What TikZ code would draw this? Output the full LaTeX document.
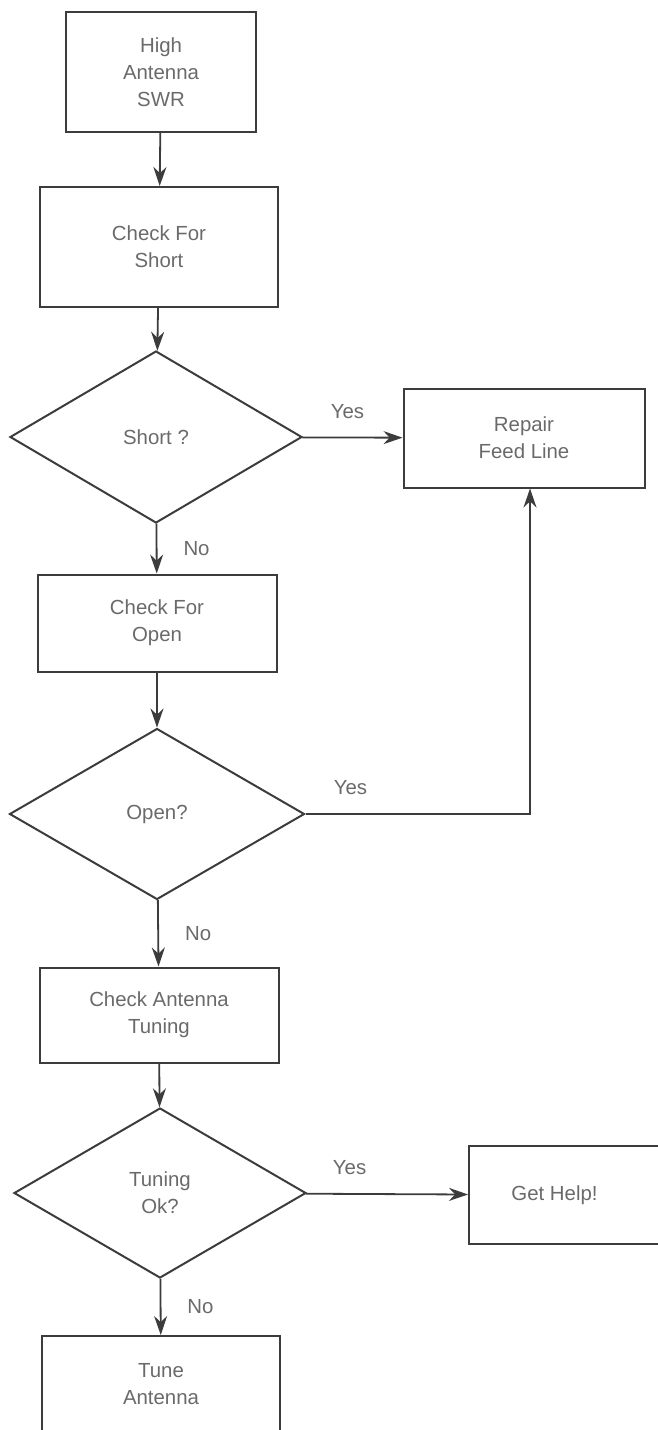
\documentclass[tikz,border=0pt]{standalone}
\usepackage{fontspec}
\setmainfont{Liberation Sans}
\usepackage{tikz}
\usetikzlibrary{arrows.meta,shapes.geometric}
\definecolor{lineGray}{HTML}{3C3C3C}
\definecolor{textGray}{HTML}{6A6A6A}

\begin{document}
\begin{tikzpicture}[x=0.5pt,y=-0.5pt,
  every node/.style={font=\fontsize{10.2}{13.5}\selectfont,text=textGray},
  procbox/.style={draw=lineGray,line width=1pt,rectangle,align=center,inner sep=0pt},
  decision/.style={draw=lineGray,line width=1pt,diamond,align=center,inner sep=0pt},
  flow/.style={draw=lineGray,line width=0.9pt,-{Stealth[length=9.5pt,width=6.5pt]}},
  lbl/.style={inner sep=1pt}]
\clip (0,0) rectangle (658,1430);
% main column
\node[procbox,minimum width=95pt,minimum height=60pt] (swr) at (161,72) {High\\Antenna\\SWR};
\node[procbox,minimum width=119pt,minimum height=60pt] (chkshort) at (159,247) {Check For\\Short};
\node[decision,minimum width=146pt,minimum height=86pt] (short) at (156,437) {Short ?};
\node[procbox,minimum width=119.5pt,minimum height=48.5pt] (chkopen) at (157,623) {Check For\\Open};
\node[decision,minimum width=147.5pt,minimum height=85.5pt] (open) at (157,814) {Open?};
\node[procbox,minimum width=119.5pt,minimum height=47.5pt] (chktune) at (159,1015) {Check Antenna\\Tuning};
\node[decision,minimum width=146pt,minimum height=85pt] (tuneok) at (160,1193) {Tuning\\Ok?};
\node[procbox,minimum width=119pt,minimum height=48.5pt] (tune) at (161,1384.5) {Tune\\Antenna};
% right side
\node[procbox,minimum width=120.5pt,minimum height=49.5pt] (repair) at (524,438) {Repair\\Feed Line};
\node[procbox,minimum width=105.5pt,minimum height=49pt] (help) at (574.5,1195) {Get Help!\hspace*{20pt}};

\draw[flow] (swr) -- (chkshort);
\draw[flow] (chkshort) -- (short);
\draw[flow] (short) -- node[lbl,pos=0.45,above=8pt] {Yes} (repair);
\draw[flow] (short) -- node[lbl,right=12pt] {No} (chkopen);
\draw[flow] (chkopen) -- (open);
\draw[flow] (open.east) -| node[lbl,pos=0.1,above=8pt] {Yes} ([xshift=3pt]repair.south);
\draw[flow] (open) -- node[lbl,right=12pt] {No} (chktune);
\draw[flow] (chktune) -- (tuneok);
\draw[flow] (tuneok) -- node[lbl,pos=0.27,above=8pt] {Yes} (help);
\draw[flow] (tuneok) -- node[lbl,right=12pt] {No} (tune);
\end{tikzpicture}
\end{document}
